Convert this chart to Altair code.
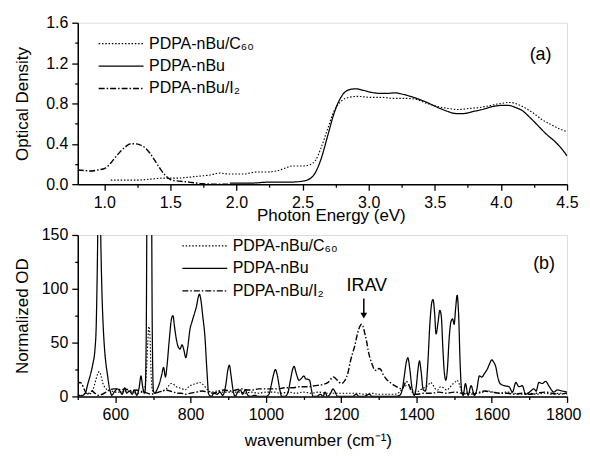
import altair as alt
import pandas as pd

FONT = "Liberation Sans"
NAMES = ["PDPA-nBu/C₆₀", "PDPA-nBu", "PDPA-nBu/I₂"]

# ---------------- panel (a): optical density vs photon energy ----------------
a_c60_x = [1.05, 1.15, 1.25, 1.35, 1.45, 1.55, 1.65, 1.72, 1.80, 1.87, 1.95, 2.05, 2.15, 2.22, 2.30,
           2.37, 2.42, 2.50, 2.55, 2.60, 2.64, 2.69, 2.74, 2.79, 2.85, 2.92, 3.01, 3.10, 3.19, 3.28,
           3.36, 3.44, 3.52, 3.60, 3.68, 3.76, 3.84, 3.92, 4.00, 4.07, 4.13, 4.19, 4.25, 4.31, 4.38,
           4.44, 4.50]
a_c60_y = [0.04, 0.04, 0.04, 0.05, 0.06, 0.06, 0.07, 0.08, 0.09, 0.11, 0.10, 0.10, 0.12, 0.12, 0.13,
           0.16, 0.18, 0.18, 0.19, 0.24, 0.36, 0.55, 0.73, 0.82, 0.86, 0.87, 0.86, 0.86, 0.85, 0.85,
           0.84, 0.80, 0.77, 0.75, 0.74, 0.75, 0.76, 0.78, 0.80, 0.81, 0.79, 0.75, 0.70, 0.64, 0.59,
           0.55, 0.52]

a_nbu_x = [1.95, 2.10, 2.25, 2.40, 2.50, 2.55, 2.59, 2.64, 2.69, 2.74, 2.79, 2.84, 2.90, 2.96, 3.02,
           3.08, 3.14, 3.20, 3.26, 3.34, 3.44, 3.54, 3.60, 3.66, 3.72, 3.79, 3.86, 3.94, 4.00, 4.06,
           4.11, 4.16, 4.22, 4.28, 4.34, 4.41, 4.46, 4.50]
a_nbu_y = [0.01, 0.01, 0.02, 0.02, 0.03, 0.05, 0.10, 0.25, 0.48, 0.71, 0.86, 0.93, 0.945, 0.93, 0.91,
           0.90, 0.90, 0.905, 0.89, 0.86, 0.81, 0.75, 0.72, 0.70, 0.70, 0.72, 0.74, 0.77, 0.78, 0.78,
           0.76, 0.73, 0.66, 0.58, 0.50, 0.42, 0.35, 0.28]

a_i2_x = [0.80, 0.85, 0.90, 0.95, 1.01, 1.05, 1.08, 1.12, 1.16, 1.20, 1.23, 1.27, 1.31, 1.35, 1.38,
          1.42, 1.46, 1.51, 1.57, 1.64, 1.74, 1.85, 1.95]
a_i2_y = [0.14, 0.135, 0.13, 0.14, 0.16, 0.21, 0.26, 0.32, 0.37, 0.40, 0.40, 0.39, 0.36, 0.30, 0.24,
          0.16, 0.09, 0.04, 0.03, 0.02, 0.005, 0.0, 0.0]

# ---------------- panel (b): normalized OD vs wavenumber ----------------
b_nbu_x = [500, 510, 520, 527, 535, 540, 546, 549, 551, 553, 556, 561, 564, 567, 571, 575, 579, 583,
           587, 590, 597, 605, 612, 618, 625, 630, 637, 645, 650, 657, 663, 668, 672, 677, 679, 682,
           684, 690, 696, 698, 701, 705, 710, 717, 723, 728, 733, 737, 743, 749, 753, 757, 762, 767,
           772, 777, 782, 787, 792, 798, 804, 810, 815, 820, 823, 827, 832, 838, 843, 848, 855, 862,
           870, 878, 885, 893, 899, 903, 907, 913, 918, 925, 932, 938, 945, 952, 960, 970, 980, 990,
           1000, 1008, 1015, 1020, 1025, 1030, 1036, 1042, 1050, 1058, 1065, 1070, 1075, 1080, 1088,
           1095, 1101, 1106, 1110, 1116, 1121, 1125, 1135, 1145, 1152, 1157, 1163, 1172, 1178, 1184,
           1190, 1200, 1230, 1240, 1247, 1260, 1275, 1282, 1300, 1320, 1340, 1355, 1362, 1368, 1373,
           1377, 1382, 1388, 1394, 1399, 1404, 1408, 1412, 1418, 1424, 1430, 1436, 1441, 1444, 1448,
           1452, 1457, 1462, 1466, 1470, 1474, 1478, 1482, 1487, 1492, 1496, 1500, 1504, 1508, 1512,
           1516, 1520, 1524, 1530, 1537, 1545, 1554, 1560, 1567, 1574, 1580, 1589, 1595, 1600, 1605,
           1611, 1616, 1622, 1633, 1646, 1655, 1664, 1672, 1681, 1690, 1700, 1712, 1718, 1725, 1734,
           1743, 1753, 1765, 1774, 1787, 1800]
b_nbu_y = [1, 0.5, 3, 12, 22, 30, 45, 65, 100, 150, 300, 150, 100, 70, 45, 30, 20, 10,
           4, 1, 4, 7, 5, 2, 8, 3, 5, 2, 6, 1, 8, 19, 10, 3, 5, 60,
           200, 600, 200, 60, 5, 3, 6, 12, 20, 27, 18, 28, 52, 72, 75, 65, 53, 46,
           44, 48, 43, 36, 45, 62, 70, 77, 83, 92, 95, 90, 75, 55, 25, 2, 0, 3,
           2, 4, 1, 10, 25, 29, 20, 5, 0, 4, 6, 2, 6, 1, 0, 1, 0, 0,
           0, 2, 12, 20, 25, 20, 8, 0, 0, 3, 15, 24, 28, 22, 15,
           17, 19, 16, 16, 15, 6, 0, 0, 2, 0, 4, 0, 3, 7, 4,
           0, 0, 0, 2, 0, 0, 2, 0, 0, 0, 0, 1, 6, 20, 32,
           36, 26, 8, 1, 8, 25, 33, 24, 6, 5, 30, 70, 88, 90, 78,
           58, 68, 80, 74, 45, 22, 15, 25, 55, 70, 72, 67, 82, 94, 75,
           30, 5, 1, 12, 1, 10, 1, 6, 19, 18, 21, 26, 31, 34, 32,
           27, 18, 12, 10, 9, 4, 13, 9, 10, 2, 4, 7, 5, 13, 12,
           14, 9, 4, 6, 5, 4]

b_c60_x = [500, 510, 520, 530, 540, 547, 552, 557, 562, 567, 573, 580, 590, 600, 615, 630, 645, 660,
           670, 678, 682, 686, 689, 692, 695, 699, 705, 715, 725, 735, 742, 748, 755, 762, 770, 778,
           785, 795, 805, 815, 823, 830, 838, 845, 855, 870, 885, 900, 915, 930, 945, 960, 980, 1000,
           1020, 1040, 1060, 1080, 1100, 1120, 1140, 1160, 1180, 1200, 1220, 1240, 1260, 1280, 1300,
           1320, 1340, 1355, 1365, 1372, 1378, 1385, 1392, 1400, 1410, 1420, 1430, 1437, 1443, 1450,
           1456, 1464, 1472, 1480, 1488, 1495, 1502, 1508, 1514, 1520, 1530, 1545, 1560, 1575, 1590,
           1605, 1620, 1640, 1660, 1680, 1700, 1720, 1740, 1760, 1780, 1800]
b_c60_y = [2, 1, 3, 2, 6, 14, 20, 23, 19, 12, 8, 6, 5, 4, 4, 5, 4, 3,
           4, 8, 20, 50, 65, 55, 20, 5, 3, 4, 5, 7, 10, 12, 11, 9, 8, 7,
           6, 9, 11, 12, 13, 12, 9, 6, 4, 5, 4, 4, 4, 4, 3, 4, 3, 4,
           4, 3, 4, 3, 4, 3, 4, 3, 3, 3, 3, 3, 2, 3, 2,
           2, 2, 4, 8, 10, 11, 8, 5, 4, 6, 8, 10, 13, 11, 7,
           6, 9, 8, 6, 8, 11, 13, 15, 11, 5, 3, 4, 3, 4, 5,
           4, 3, 4, 3, 2, 3, 2, 3, 2, 3, 2]

b_i2_x = [500, 505, 510, 518, 525, 530, 538, 545, 555, 565, 575, 585, 595, 605, 615, 625, 635, 645,
          655, 665, 675, 685, 695, 705, 715, 725, 735, 745, 755, 765, 775, 785, 800, 815, 830, 845,
          860, 875, 890, 905, 920, 935, 950, 965, 980, 995, 1010, 1030, 1050, 1070, 1090, 1110, 1130,
          1150, 1165, 1175, 1180, 1187, 1195, 1201, 1210, 1218, 1224, 1230, 1236, 1241, 1246, 1251,
          1254, 1258, 1263, 1267, 1272, 1277, 1282, 1288, 1294, 1300, 1305, 1312, 1320, 1330, 1342,
          1352, 1360, 1367, 1372, 1378, 1385, 1392, 1400, 1420, 1440, 1460, 1480, 1500, 1520, 1540,
          1560, 1580, 1600, 1620, 1640, 1660, 1680, 1700, 1720, 1740, 1760, 1780, 1800]
b_i2_y = [10, 13, 12, 6, 2, 3, 5, 3, 1, 2, 4, 6, 7, 7, 6, 7, 6, 5,
          6, 5, 4, 3, 2, 3, 4, 5, 6, 5, 4, 3, 3, 2, 3, 4, 5, 4,
          3, 5, 6, 5, 6, 7, 6, 6, 7, 7, 7, 7, 8, 8, 9, 9, 10,
          11, 13, 17, 18, 16, 13, 12, 15, 22, 32, 40, 47, 55, 62, 66,
          67, 65, 58, 52, 42, 35, 30, 25, 24, 26, 25, 20, 16, 13, 10,
          8, 7, 10, 14, 12, 6, 3, 2, 3, 3, 4, 3, 4, 3, 2,
          3, 5, 4, 3, 3, 2, 3, 2, 3, 4, 3, 2, 3]

# annotation texts
PANEL_A = "(a)"
PANEL_B = "(b)"
IRAV = "IRAV"


def frame(series):
    rows = []
    for order, (name, xs, ys) in enumerate(series):
        for i, (x, y) in enumerate(zip(xs, ys)):
            rows.append({"x": x, "y": y, "series": name, "o": i, "k": order})
    return pd.DataFrame(rows)


df_a = frame([(NAMES[2], a_i2_x, a_i2_y), (NAMES[0], a_c60_x, a_c60_y), (NAMES[1], a_nbu_x, a_nbu_y)])
df_b = frame([(NAMES[2], b_i2_x, b_i2_y), (NAMES[0], b_c60_x, b_c60_y), (NAMES[1], b_nbu_x, b_nbu_y)])

dash_scale = alt.Scale(domain=NAMES, range=[[1.5, 1.8], [1, 0], [6, 2, 1.5, 2]])
width_scale = alt.Scale(domain=NAMES, range=[1.1, 1.4, 1.1])


def legend(x, y):
    # horizontal line symbol, 45 px long (path in unit space scaled by sqrt(size)/2 = 9)
    return alt.Legend(title=None, orient="none", legendX=x, legendY=y, padding=0,
                      symbolType="M-2.5,0H2.5", symbolSize=324, symbolStrokeWidth=1.3,
                      symbolOffset=12.5, symbolStrokeColor="black", symbolFillColor="transparent",
                      labelFont=FONT, labelFontSize=16, labelColor="black", labelOffset=18,
                      rowPadding=4.5)


def cond_tick(test, major, minor):
    return {"condition": {"test": test, "value": major}, "value": minor}


ax_common = dict(grid=False, domainColor="black", domainWidth=1.5, tickColor="black", tickWidth=1.3,
                 labelFont=FONT, labelFontSize=16, labelColor="black", titleFont=FONT,
                 titleFontSize=17, titleFontWeight="normal", titleColor="black",
                 labelOverlap=False)

# ---- panel (a)
xa_vals = [1.0, 1.25, 1.5, 1.75, 2.0, 2.25, 2.5, 2.75, 3.0, 3.25, 3.5, 3.75, 4.0, 4.25, 4.5]
ya_vals = [0.0, 0.2, 0.4, 0.6, 0.8, 1.0, 1.2, 1.4, 1.6]

xa_axis = alt.Axis(values=xa_vals, title="Photon Energy (eV)", format=".1f",
                   labelExpr="round(datum.value*4) % 2 == 0 ? datum.label : ''",
                   tickSize=cond_tick("round(datum.value*4) % 2 == 0", 6, 3),
                   labelFlush=True, labelFlushOffset=11,
                   labelPadding=4, titleX=254, titleY=31, titleBaseline="middle", **ax_common)
ya_axis = alt.Axis(values=ya_vals, title="Optical Density", format=".1f",
                   labelExpr="round(datum.value*10) % 4 == 0 ? datum.label : ''",
                   tickSize=cond_tick("round(datum.value*10) % 4 == 0", 6, 3),
                   labelFlush=False,
                   labelPadding=4, titleX=-55, titleBaseline="middle", **ax_common)

xa = alt.X("x:Q", scale=alt.Scale(domain=[0.8, 4.5], nice=False, zero=False), axis=xa_axis)
ya = alt.Y("y:Q", scale=alt.Scale(domain=[0, 1.6], nice=False), axis=ya_axis)

lines_a = alt.Chart(df_a).mark_line(clip=True, color="black", interpolate="monotone").encode(
    x=xa, y=ya,
    detail="series:N",
    order="o:Q",
    strokeDash=alt.StrokeDash("series:N", scale=dash_scale, legend=legend(21, 11)),
    strokeWidth=alt.StrokeWidth("series:N", scale=width_scale, legend=None),
)
label_a = alt.Chart(pd.DataFrame({"x": [4.30], "y": [1.28], "t": [PANEL_A]})).mark_text(
    font=FONT, fontSize=18, color="black").encode(x=alt.X("x:Q", axis=xa_axis), y=alt.Y("y:Q", axis=ya_axis),
                                                  text="t:N")

panel_a = alt.layer(lines_a, label_a).properties(width=491, height=162)

# ---- panel (b)
xb_vals = [500, 600, 700, 800, 900, 1000, 1100, 1200, 1300, 1400, 1500, 1600, 1700, 1800]
yb_vals = [0, 25, 50, 75, 100, 125, 150]

xb_axis = alt.Axis(values=xb_vals, title="wavenumber (cm⁻¹)", format="d",
                   labelExpr="datum.value % 200 == 0 ? datum.label : ''",
                   tickSize=cond_tick("datum.value % 200 == 0", 6, 3),
                   labelFlush=True, labelFlushOffset=14,
                   labelPadding=4, titleX=241, titleY=44, titleBaseline="middle", **ax_common)
yb_axis = alt.Axis(values=yb_vals, title="Normalized OD", format="d",
                   labelExpr="datum.value % 50 == 0 ? datum.label : ''",
                   tickSize=cond_tick("datum.value % 50 == 0", 6, 3),
                   labelFlush=False,
                   labelPadding=4, titleX=-55, titleBaseline="middle", **ax_common)

xb = alt.X("x:Q", scale=alt.Scale(domain=[500, 1800], nice=False, zero=False), axis=xb_axis)
yb = alt.Y("y:Q", scale=alt.Scale(domain=[0, 150], nice=False), axis=yb_axis)

lines_b = alt.Chart(df_b).mark_line(clip=True, color="black", interpolate="monotone").encode(
    x=xb, y=yb,
    detail="series:N",
    order="o:Q",
    strokeDash=alt.StrokeDash("series:N", scale=dash_scale, legend=legend(105, 1)),
    strokeWidth=alt.StrokeWidth("series:N", scale=width_scale, legend=None),
)
xb_plain = alt.X("x:Q", axis=xb_axis)
yb_plain = alt.Y("y:Q", axis=yb_axis)
label_b = alt.Chart(pd.DataFrame({"x": [1739], "y": [123], "t": [PANEL_B]})).mark_text(
    font=FONT, fontSize=18, color="black").encode(x=xb_plain, y=yb_plain, text="t:N")
irav_text = alt.Chart(pd.DataFrame({"x": [1268], "y": [103], "t": [IRAV]})).mark_text(
    font=FONT, fontSize=18, color="black").encode(x=xb_plain, y=yb_plain, text="t:N")
arrow_shaft = alt.Chart(pd.DataFrame({"x": [1260], "y": [91], "y2": [76]})).mark_rule(
    color="black", strokeWidth=1.5).encode(x=xb_plain, y=yb_plain, y2="y2:Q")
arrow_head = alt.Chart(pd.DataFrame({"x": [1260], "y": [75]})).mark_point(
    shape="triangle-down", filled=True, size=45, color="black", opacity=1).encode(x=xb_plain, y=yb_plain)

panel_b = alt.layer(lines_b, label_b, irav_text, arrow_shaft, arrow_head).properties(width=491, height=162)

chart = alt.vconcat(panel_a, panel_b, spacing=51, bounds="flush").resolve_legend(
    strokeDash="independent").resolve_scale(x="independent", y="independent",
                                             strokeDash="independent").configure_view(
    stroke="black", strokeWidth=1.5).configure(padding={"left": 5, "top": 5, "right": 0, "bottom": 0},
                                                background="white")

chart.save("out.html", embed_options={"renderer": "svg", "actions": False})
